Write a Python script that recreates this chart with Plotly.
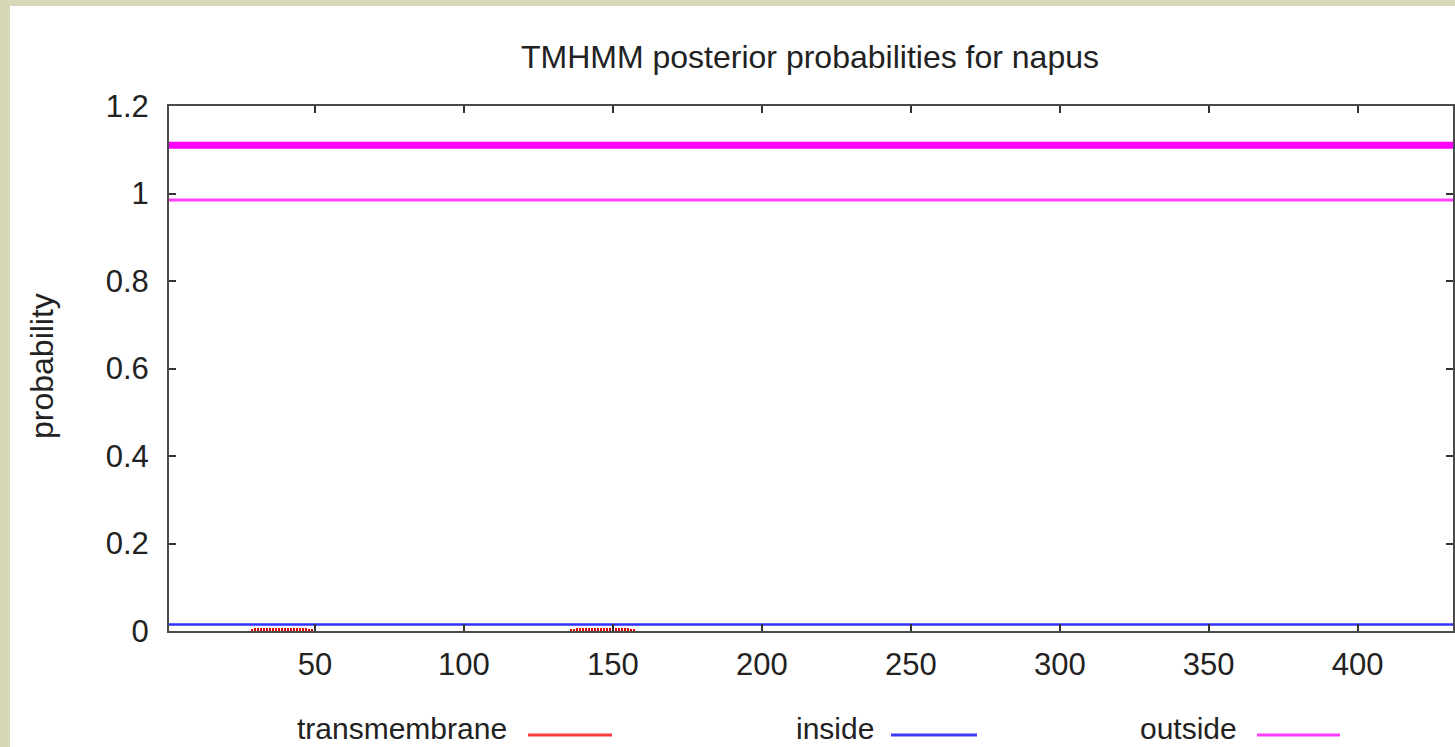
import plotly.graph_objects as go

# ---- data ----
seq_ends = [1, 432]                      # sequence span (residue positions)
inside_prob = [0.015, 0.015]            # blue line
outside_prob = [0.985, 0.985]           # thin magenta line
topology_outside = [1.11, 1.11]         # thick magenta topology bar (outside)

tm_positions = list(range(29, 50)) + list(range(136, 159))
tm_prob = [0.005, 0.006, 0.006, 0.007, 0.007, 0.007, 0.008, 0.008, 0.008, 0.008, 0.008,
           0.008, 0.008, 0.008, 0.007, 0.007, 0.007, 0.006, 0.006, 0.005, 0.005,
           0.005, 0.005, 0.006, 0.006, 0.007, 0.007, 0.007, 0.008, 0.008, 0.008, 0.008,
           0.008, 0.008, 0.008, 0.007, 0.007, 0.007, 0.006, 0.006, 0.006, 0.005, 0.005]

x_ticks = [50, 100, 150, 200, 250, 300, 350, 400]
y_ticks = [0, 0.2, 0.4, 0.6, 0.8, 1, 1.2]

legend_names = ["transmembrane", "inside", "outside"]
legend_colors = ["#ff3c3c", "#3c3cff", "#ff3cff"]

title_text = "TMHMM posterior probabilities for napus"
y_title = "probability"

FONT = "Liberation Sans, Arial, Helvetica, sans-serif"
W, H = 1455, 747
L, R, T, B = 169, 2, 106, 116
PW, PH = W - L - R, H - T - B

def px_to_paper_x(px):
    return (px - L) / PW

def py_to_paper_y(py):
    return (H - B - py) / PH

fig = go.Figure()

fig.add_trace(go.Bar(x=tm_positions, y=tm_prob, width=0.4,
                     marker=dict(color="#e00000", line=dict(width=0)),
                     name=legend_names[0], showlegend=False))
fig.add_trace(go.Scatter(x=seq_ends, y=inside_prob, mode="lines",
                         line=dict(color="#3030ff", width=2.5),
                         name=legend_names[1], showlegend=False))
fig.add_trace(go.Scatter(x=seq_ends, y=outside_prob, mode="lines",
                         line=dict(color="#ff40ff", width=3),
                         name=legend_names[2], showlegend=False))
fig.add_trace(go.Scatter(x=seq_ends, y=topology_outside, mode="lines",
                         line=dict(color="#ff00ff", width=7),
                         showlegend=False))

shapes = [
    dict(type="rect", xref="paper", yref="paper",
         x0=px_to_paper_x(10), x1=px_to_paper_x(W + 20),
         y0=py_to_paper_y(H + 20), y1=py_to_paper_y(6),
         fillcolor="white", line=dict(width=0), layer="below"),
]
annotations = [
    dict(text=y_title, xref="paper", yref="paper",
         x=px_to_paper_x(42), y=py_to_paper_y(366), textangle=-90,
         showarrow=False, xanchor="center", yanchor="middle",
         font=dict(family=FONT, size=32, color="#222222")),
]

# legend (gnuplot-style: text then line sample)
legend_text_right = [508, 875, 1238]
legend_line_x = [(528, 612), (891, 977), (1257, 1340)]
leg_text_y = 728
leg_line_y = 735
for name, color, tr, (lx0, lx1) in zip(legend_names, legend_colors,
                                        legend_text_right, legend_line_x):
    annotations.append(dict(text=name, xref="paper", yref="paper",
                            x=px_to_paper_x(tr), y=py_to_paper_y(leg_text_y),
                            xanchor="right", yanchor="middle", showarrow=False,
                            borderpad=0,
                            font=dict(family=FONT, size=30, color="#222222")))
    shapes.append(dict(type="line", xref="paper", yref="paper",
                       x0=px_to_paper_x(lx0), x1=px_to_paper_x(lx1),
                       y0=py_to_paper_y(leg_line_y), y1=py_to_paper_y(leg_line_y),
                       line=dict(color=color, width=3)))

fig.update_layout(
    width=W, height=H,
    margin=dict(l=L, r=R, t=T, b=B, autoexpand=False),
    paper_bgcolor="#d8d7b8",
    plot_bgcolor="white",
    font=dict(family=FONT, size=31, color="#222222"),
    title=dict(text=title_text, x=px_to_paper_x(810), xref="paper", xanchor="center",
               y=1 - 57 / H, yref="container", yanchor="middle",
               font=dict(family=FONT, size=32, color="#222222")),
    shapes=shapes, annotations=annotations,
    showlegend=False, bargap=0,
)
fig.update_xaxes(range=[seq_ends[0], seq_ends[1]], tickvals=x_ticks,
                 showgrid=False, zeroline=False,
                 showline=True, linecolor="#4a4a4a", linewidth=2, mirror="ticks",
                 ticks="inside", ticklen=7, tickwidth=2, tickcolor="#333333",
                 ticklabelstandoff=5,
                 tickfont=dict(family=FONT, size=31, color="#222222"))
fig.update_yaxes(range=[0, 1.2], tickvals=y_ticks,
                 showgrid=False, zeroline=False,
                 showline=True, linecolor="#4a4a4a", linewidth=2, mirror="ticks",
                 ticks="inside", ticklen=7, tickwidth=2, tickcolor="#333333",
                 ticklabelstandoff=12,
                 tickfont=dict(family=FONT, size=31, color="#222222"))

fig.write_html("out.html")
